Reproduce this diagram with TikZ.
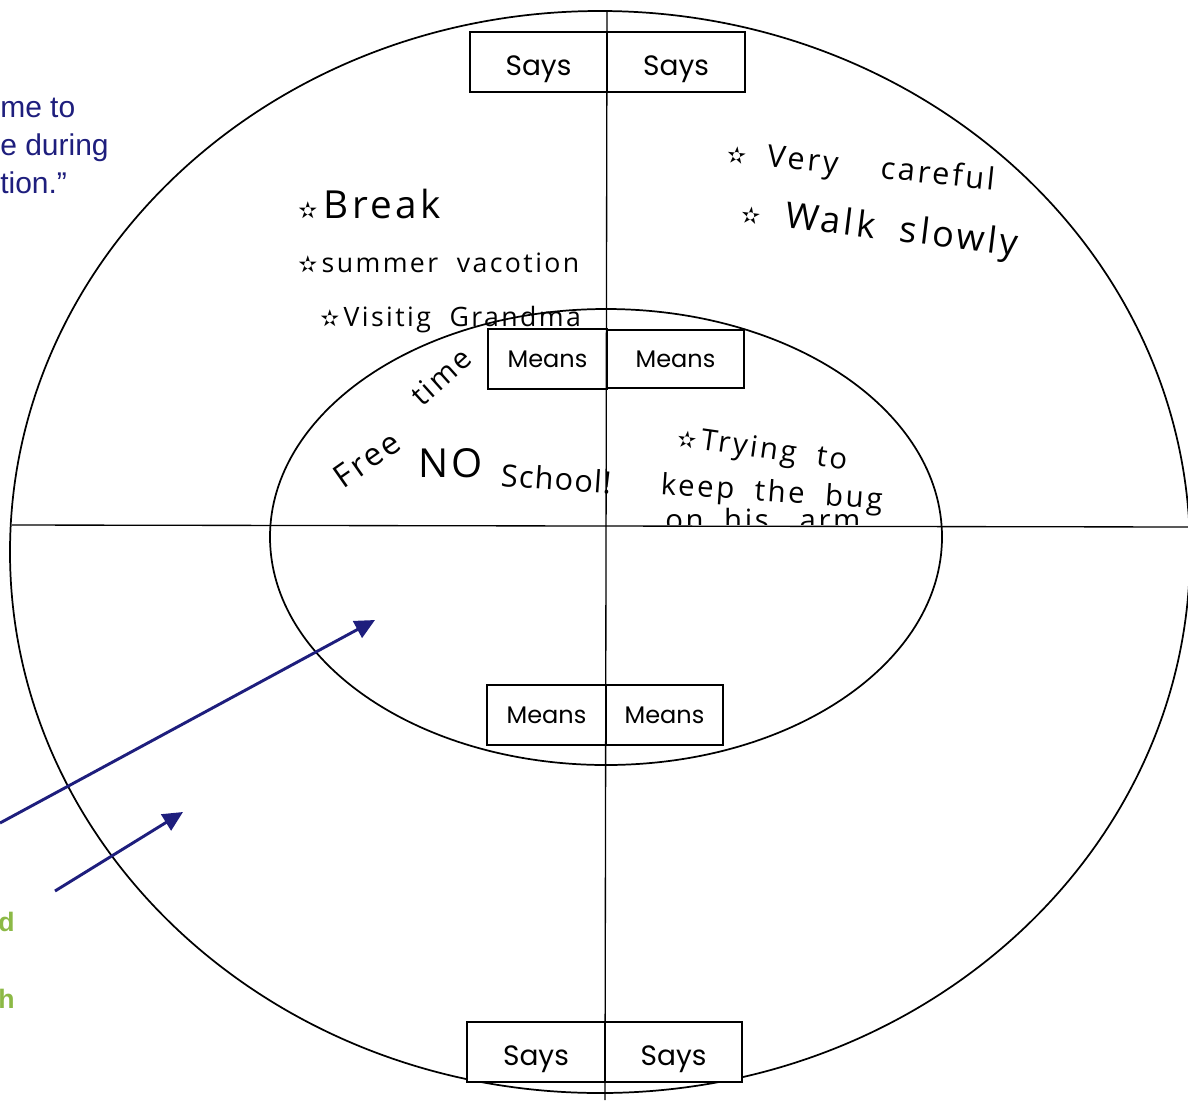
\documentclass[tikz,border=0pt]{standalone}
\usepackage{fontspec}
\setmainfont{Liberation Sans}
\newfontfamily\boxfont{Poppins}
\newfontfamily\handfont[LetterSpace=9]{Open Sans}
\newfontfamily\handtight[LetterSpace=4]{Open Sans}
\newfontfamily\symfont{DejaVu Sans}
\usetikzlibrary{arrows.meta}
\definecolor{navy}{RGB}{30,30,125}
\definecolor{leaf}{RGB}{140,185,70}
\tikzset{
  ink/.style={line width=1.3pt,black},
  labbox/.style={draw,line width=1.1pt,minimum width=#1*0.75pt,minimum height=60*0.75pt,inner sep=0pt},
  saysfont/.style={font=\boxfont\fontsize{21}{22}\selectfont},
  meansfont/.style={font=\boxfont\fontsize{18}{20}\selectfont},
  hand/.style={anchor=base west,inner sep=0pt,font=\handfont\fontsize{#1}{#1}\selectfont},
  handt/.style={anchor=base west,inner sep=0pt,font=\handtight\fontsize{#1}{#1}\selectfont},
  bluetxt/.style={anchor=base west,inner sep=0pt,text=navy,font=\fontsize{22.5}{26}\selectfont},
  greentxt/.style={anchor=base west,inner sep=0pt,text=leaf,font=\bfseries\fontsize{20}{24}\selectfont},
  pointer/.style={navy,line width=2.2pt,-{Triangle[length=15pt,width=14pt]}}
}
\newcommand{\hstar}{{\symfont\fontsize{17}{17}\selectfont ✫}}
\newcommand{\says}{\raisebox{-10pt}[0pt][0pt]{Says}}
\begin{document}
\begin{tikzpicture}[x=0.75pt,y=-0.75pt]
\useasboundingbox (0,0) rectangle (1188,1100);
% outer and inner ellipses
\draw[ink] (600,552) ellipse [x radius=590, y radius=541];
\draw[ink] (606,537) ellipse [x radius=336, y radius=228];
% axes
\coordinate (hl) at (12,525);
\coordinate (hr) at (1188,527);
\coordinate (vt) at (607,10);
\coordinate (vb) at (605,1100);
\draw[line width=1pt] (hl) -- (hr);
% boxes
\node[labbox=137,fill=white,saysfont] (ts1) at (538.5,62) {\says};
\node[labbox=138,fill=white,saysfont] (ts2) at (676,62) {\says};
\node[labbox=119,fill=white,meansfont] (tm1) at (547.5,359) {Means};
\node[labbox=137,fill=white,meansfont,minimum height=58*0.75pt] (tm2) at (675.5,359) {Means};
\node[labbox=119,fill=white,meansfont] (bm1) at (546.5,715) {Means};
\node[labbox=117,fill=white,meansfont] (bm2) at (664.5,715) {Means};
\node[labbox=138,fill=white,saysfont] (bs1) at (536,1052) {\says};
\node[labbox=137,fill=white,saysfont] (bs2) at (673.5,1052) {\says};
\draw[line width=1pt] (vt) -- (vb);
% blue text (cut off at left)
\node[bluetxt] (b1) at (0,117) {me to};
\node[bluetxt] (b2) at (0,155) {e during};
\node[bluetxt] (b3) at (0,193) {tion.”};
% green text
\node[greentxt] (g1) at (-2,931) {d};
\node[greentxt] (g2) at (-2,1008) {h};
% arrows
\coordinate (a1s) at (0,823);
\coordinate (a1e) at (375,620);
\coordinate (a2s) at (55,891);
\coordinate (a2e) at (183,812);
\draw[pointer] (a1s) -- (a1e);
\draw[pointer] (a2s) -- (a2e);
% handwriting, upper left
\node[hand=29] (t1) at (298,218) {\hstar\,Break};
\node[hand=20] (t2) at (298,272) {\hstar\,summer\ \ vacotion};
\node[hand=20] (t3) at (320,326) {\hstar\,Visitig\ \ Grandma};
% handwriting, upper right
\node[hand=23,rotate=-6] (t4) at (726,162) {\hstar\ \ Very\ \ \ \ careful};
\node[hand=27,rotate=-7] (t5) at (740,222) {\hstar\ \ Walk\ \ slowly};
% inner left
\node[hand=24,rotate=35] (t6) at (343,490) {Free};
\node[hand=22,rotate=42] (t7) at (422,408) {time};
\node[hand=30] (t8) at (418,477) {NO};
\node[handt=23,rotate=-4] (t9) at (500,486) {School!};
% inner right
\node[hand=22,rotate=-8] (t10) at (676,446) {\hstar\,Trying\ \ to};
\node[hand=22,rotate=-4] (t11) at (660,494) {keep\ \ the\ \ bug};
\begin{scope}
\clip (640,490) rectangle (900,524);
\node[hand=22] (t12) at (665,530) {on\ \ his\ \ \ arm};
\end{scope}
\end{tikzpicture}
\end{document}
